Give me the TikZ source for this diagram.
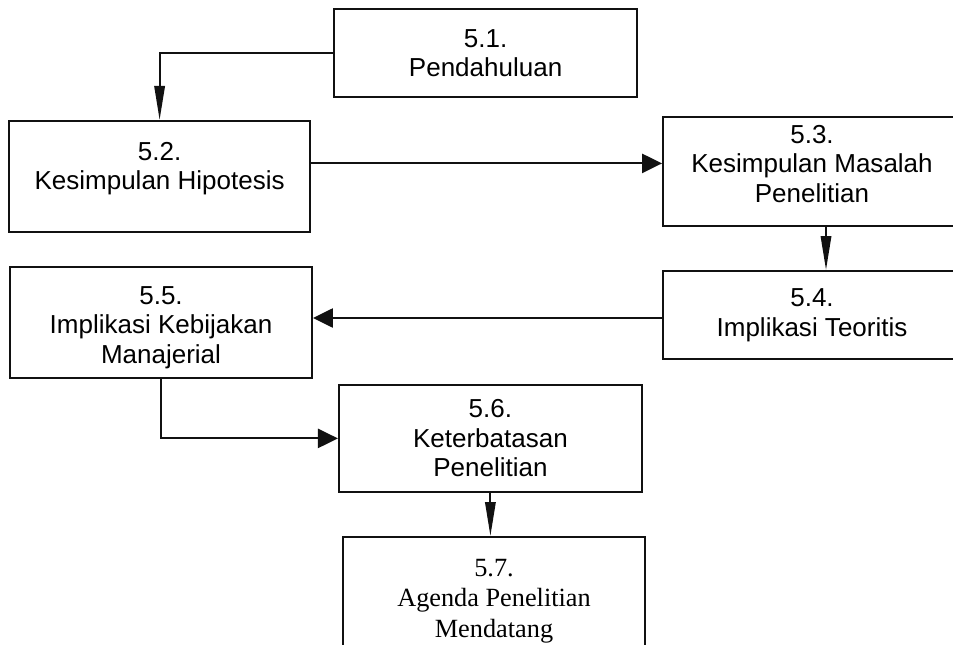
\documentclass[tikz,border=0pt]{standalone}
\usepackage{fontspec}
\setmainfont{Liberation Sans}
\newfontfamily\agendafont{Liberation Serif}
\usepackage{tikz}
\usetikzlibrary{arrows.meta}
\definecolor{scan_black}{HTML}{111111}
\newcommand{\toppad}[1]{\rule{0pt}{#1}}
\tikzset{chap box/.style={draw=scan_black, line width=1.4pt, align=center, inner sep=0pt, font=\fontsize{18.5}{21}\selectfont}}
\tikzset{flow side/.style={scan_black, line width=1.4pt, -{Triangle[length=5mm, width=4.8mm]}}}
\tikzset{flow down/.style={scan_black, line width=1.4pt, -{Triangle[length=8.5mm, width=2.6mm]}}}

\begin{document}
\begin{tikzpicture}

% Keep the page as large as the scan
\useasboundingbox (0,0) rectangle (23.825,16.1);

% Draw the top box
\node[chap box, minimum width=7.575cm, minimum height=2.2cm] (b51) at (12.14,14.775) {5.1.\\Pendahuluan};
% Draw the two boxes of the first row
\node[chap box, minimum width=7.525cm, minimum height=2.775cm] (b52) at (3.99,11.69) {\toppad{6.6mm}5.2.\\Kesimpulan Hipotesis\\\mbox{}};
\node[chap box, minimum width=7.45cm, minimum height=2.725cm, text depth=4mm] (b53) at (20.3,11.81) {5.3.\\Kesimpulan Masalah\\Penelitian};
% Draw the two boxes of the second row
\node[chap box, minimum width=7.45cm, minimum height=2.2cm] (b54) at (20.3,8.225) {5.4.\\Implikasi Teoritis};
\node[chap box, minimum width=7.55cm, minimum height=2.775cm] (b55) at (4.025,8.04) {\toppad{7mm}5.5.\\Implikasi Kebijakan\\Manajerial};
% Draw the two lower boxes
\node[chap box, minimum width=7.575cm, minimum height=2.675cm] (b56) at (12.26,5.14) {5.6.\\Keterbatasan\\Penelitian};
\node[chap box, minimum width=7.55cm, minimum height=2.95cm, font=\agendafont\fontsize{18.7}{22}\selectfont] (b57) at (12.35,1.2) {\toppad{6.9mm}5.7.\\Agenda Penelitian\\Mendatang};

% Draw the arrows from box to box
\draw[flow down] (b51.west) -| (b52.north);
\draw[flow side] ([yshift=3.25mm]b52.east) -- ([yshift=3.25mm]b52.east -| b53.west);
\draw[flow down] ([xshift=3.5mm]b53.south) -- ([xshift=3.5mm]b53.south |- b54.north);
\draw[flow side] ([yshift=-0.75mm]b54.west) -- ([yshift=-0.75mm]b54.west -| b55.east);
\draw[flow side] (b55.south) |- (b56.west);
\draw[flow down] (b56.south) -- (b56.south |- b57.north);

\end{tikzpicture}
\end{document}
